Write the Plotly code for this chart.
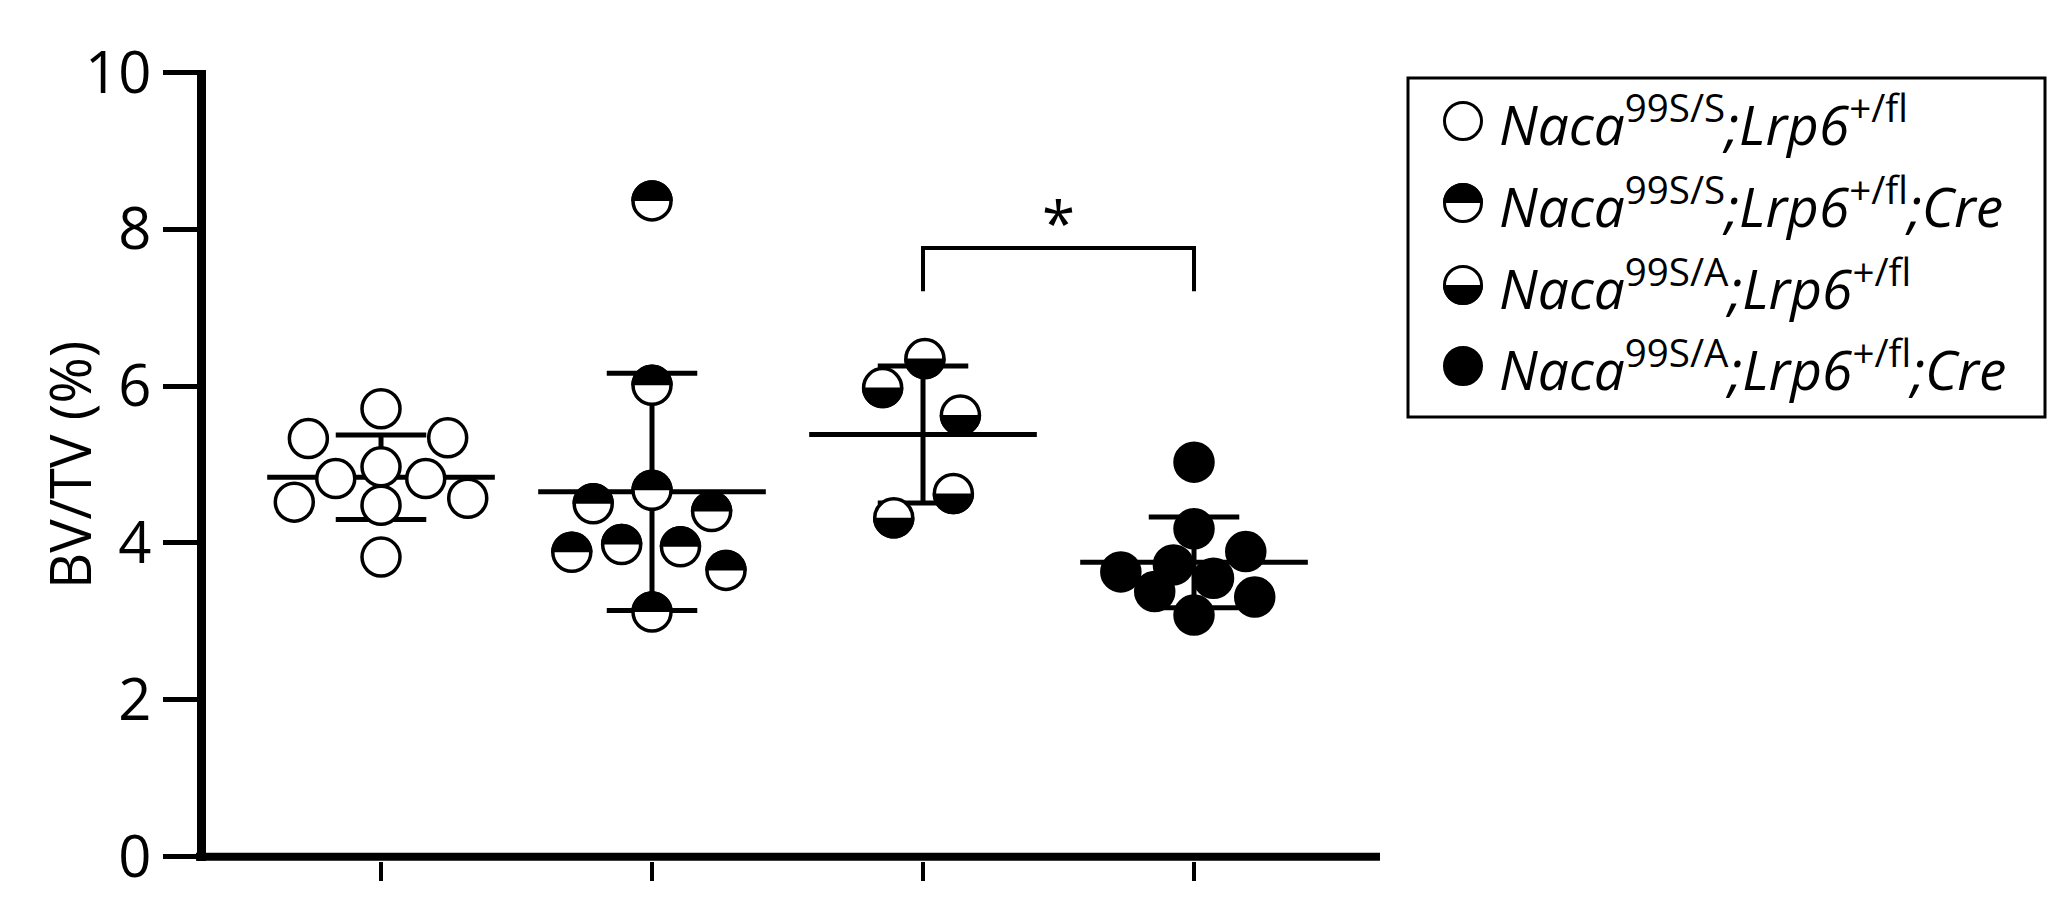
import numpy as np
import plotly.graph_objects as go

# ---------------- data ----------------
group_names = [
    "Naca99S/S;Lrp6+/fl",
    "Naca99S/S;Lrp6+/fl;Cre",
    "Naca99S/A;Lrp6+/fl",
    "Naca99S/A;Lrp6+/fl;Cre",
]
legend_labels = [
    "<i>Naca</i><sup>99S/S</sup><i>;Lrp6</i><sup>+/fl</sup>",
    "<i>Naca</i><sup>99S/S</sup><i>;Lrp6</i><sup>+/fl</sup><i>;Cre</i>",
    "<i>Naca</i><sup>99S/A</sup><i>;Lrp6</i><sup>+/fl</sup>",
    "<i>Naca</i><sup>99S/A</sup><i>;Lrp6</i><sup>+/fl</sup><i>;Cre</i>",
]
bvtv_g1 = [5.71, 5.33, 5.34, 4.82, 4.97, 4.82, 4.52, 4.57, 4.48, 3.82]
jitter_g1 = [0.0, -0.268, 0.246, -0.167, 0.0, 0.165, -0.32, 0.32, 0.0, 0.0]
bvtv_g2 = [8.36, 6.01, 4.67, 4.50, 4.40, 3.88, 3.98, 3.95, 3.65, 3.12]
jitter_g2 = [0.0, 0.0, 0.0, -0.217, 0.22, -0.296, -0.112, 0.105, 0.273, 0.0]
bvtv_g3 = [6.35, 5.98, 5.63, 4.63, 4.32]
jitter_g3 = [0.007, -0.149, 0.138, 0.112, -0.108]
bvtv_g4 = [5.03, 4.18, 3.89, 3.63, 3.72, 3.55, 3.38, 3.31, 3.08]
jitter_g4 = [0.0, 0.0, 0.191, -0.27, -0.076, 0.072, -0.145, 0.224, 0.0]
fill_styles = ["open", "top", "bottom", "solid"]
y_tick_values = [0, 2, 4, 6, 8, 10]
y_title = "BV/TV (%)"
sig_groups = [2, 3]
sig_label = "*"
sig_bracket_top = 7.76
sig_bracket_bottom = 7.21

values = [bvtv_g1, bvtv_g2, bvtv_g3, bvtv_g4]
jitters = [jitter_g1, jitter_g2, jitter_g3, jitter_g4]

# ---------------- geometry / style ----------------
W, H = 2066, 903
L, R, T, B = 198, 694, 62, 50
plot_w = W - L - R
plot_h = H - T - B
FONT = "Open Sans, Noto Sans, DejaVu Sans, sans-serif"
MSIZE = 38
MLINE = 3.5
mean_half = 0.42
cap_half = 0.167

fig = go.Figure()

# mean +/- SD lines (drawn first, under the markers)
for gi, vals in enumerate(values):
    m = float(np.mean(vals))
    s = float(np.std(vals, ddof=1))
    xs = [gi - mean_half, gi + mean_half, None,
          gi, gi, None,
          gi - cap_half, gi + cap_half, None,
          gi - cap_half, gi + cap_half]
    ys = [m, m, None,
          m - s, m + s, None,
          m + s, m + s, None,
          m - s, m - s]
    fig.add_trace(go.Scatter(x=xs, y=ys, mode="lines",
                             line=dict(color="black", width=5),
                             showlegend=False, hoverinfo="skip", cliponaxis=False))

# points
for gi, (vals, jit) in enumerate(zip(values, jitters)):
    xs = [gi + j for j in jit]
    fill = "black" if fill_styles[gi] == "solid" else "white"
    fig.add_trace(go.Scatter(x=xs, y=vals, mode="markers", name=group_names[gi],
                             marker=dict(size=MSIZE, color=fill,
                                         line=dict(color="black", width=MLINE)),
                             showlegend=False, cliponaxis=False))


def half_path(r, upper=True, n=40):
    ang = np.linspace(0, np.pi, n)
    sign = 1 if upper else -1
    pts = [(r * np.cos(a), sign * r * np.sin(a)) for a in ang]
    return "M " + " L ".join(f"{px:.2f},{py:.2f}" for px, py in pts) + " Z"


shapes = []
r_half = MSIZE / 2 + MLINE / 2
for gi, (vals, jit) in enumerate(zip(values, jitters)):
    if fill_styles[gi] not in ("top", "bottom"):
        continue
    p = half_path(r_half, upper=(fill_styles[gi] == "top"))
    for v, j in zip(vals, jit):
        shapes.append(dict(type="path", xref="x", yref="y",
                           xsizemode="pixel", ysizemode="pixel",
                           xanchor=gi + j, yanchor=v, path=p,
                           fillcolor="black", line=dict(width=0), layer="above"))

# x-axis baseline at y = 0
shapes.append(dict(type="line", xref="paper", yref="y",
                   x0=-10 / plot_w, x1=1, y0=0, y1=0,
                   line=dict(color="black", width=8), layer="above"))

# significance bracket
ga, gb = sig_groups
fig.add_trace(go.Scatter(x=[ga, ga, gb, gb],
                         y=[sig_bracket_bottom, sig_bracket_top, sig_bracket_top, sig_bracket_bottom],
                         mode="lines", line=dict(color="black", width=4),
                         showlegend=False, hoverinfo="skip", cliponaxis=False))


def px2x(px):
    return (px - L) / plot_w


def py2y(py):
    return (H - B - py) / plot_h


annotations = [
    dict(x=(ga + gb) / 2, y=8.09, xref="x", yref="y",
         text=sig_label, showarrow=False, yanchor="middle", xanchor="center",
         font=dict(family=FONT, size=60, color="black")),
    dict(x=px2x(61), y=py2y(457), xref="paper", yref="paper",
         text=y_title, textangle=-90, showarrow=False, xanchor="center", yanchor="middle",
         font=dict(family=FONT, size=56, color="black")),
]

# legend (manual, boxed)
shapes.append(dict(type="rect", xref="paper", yref="paper",
                   x0=px2x(1400), x1=px2x(2037), y0=py2y(409), y1=py2y(70),
                   line=dict(color="black", width=3), fillcolor="rgba(0,0,0,0)"))
leg_rows = [113, 195, 277, 358]
leg_mx = 1455
leg_r = 18.5
leg_lw = 3
for i, lab in enumerate(legend_labels):
    cy = py2y(leg_rows[i])
    cx = px2x(leg_mx)
    fill = "black" if fill_styles[i] == "solid" else "white"
    shapes.append(dict(type="circle", xref="paper", yref="paper",
                       xsizemode="pixel", ysizemode="pixel", xanchor=cx, yanchor=cy,
                       x0=-leg_r, x1=leg_r, y0=-leg_r, y1=leg_r,
                       fillcolor=fill, line=dict(color="black", width=leg_lw)))
    if fill_styles[i] in ("top", "bottom"):
        shapes.append(dict(type="path", xref="paper", yref="paper",
                           xsizemode="pixel", ysizemode="pixel", xanchor=cx, yanchor=cy,
                           path=half_path(leg_r + leg_lw / 2, upper=(fill_styles[i] == "top")),
                           fillcolor="black", line=dict(width=0)))
    annotations.append(dict(x=px2x(1489), y=cy, xref="paper", yref="paper",
                            text=lab, showarrow=False, xanchor="left", yanchor="middle",
                            font=dict(family=FONT, size=55, color="black")))

fig.update_layout(
    width=W, height=H,
    margin=dict(l=L, r=R, t=T, b=B, pad=0),
    paper_bgcolor="white", plot_bgcolor="white",
    showlegend=False,
    shapes=shapes, annotations=annotations,
    xaxis=dict(range=[-0.6458, 3.6863], tickvals=[0, 1, 2, 3], showticklabels=False,
               ticks="outside", ticklen=19, tickwidth=4, tickcolor="black",
               showline=False, showgrid=False, zeroline=False),
    yaxis=dict(range=[-0.0548, 10.029], tickvals=y_tick_values, ticks="outside",
               ticklen=34, tickwidth=5, tickcolor="black",
               showline=True, linewidth=9, linecolor="black",
               showgrid=False, zeroline=False,
               tickfont=dict(family=FONT, size=58, color="black")),
)

fig.write_html("out.html")
